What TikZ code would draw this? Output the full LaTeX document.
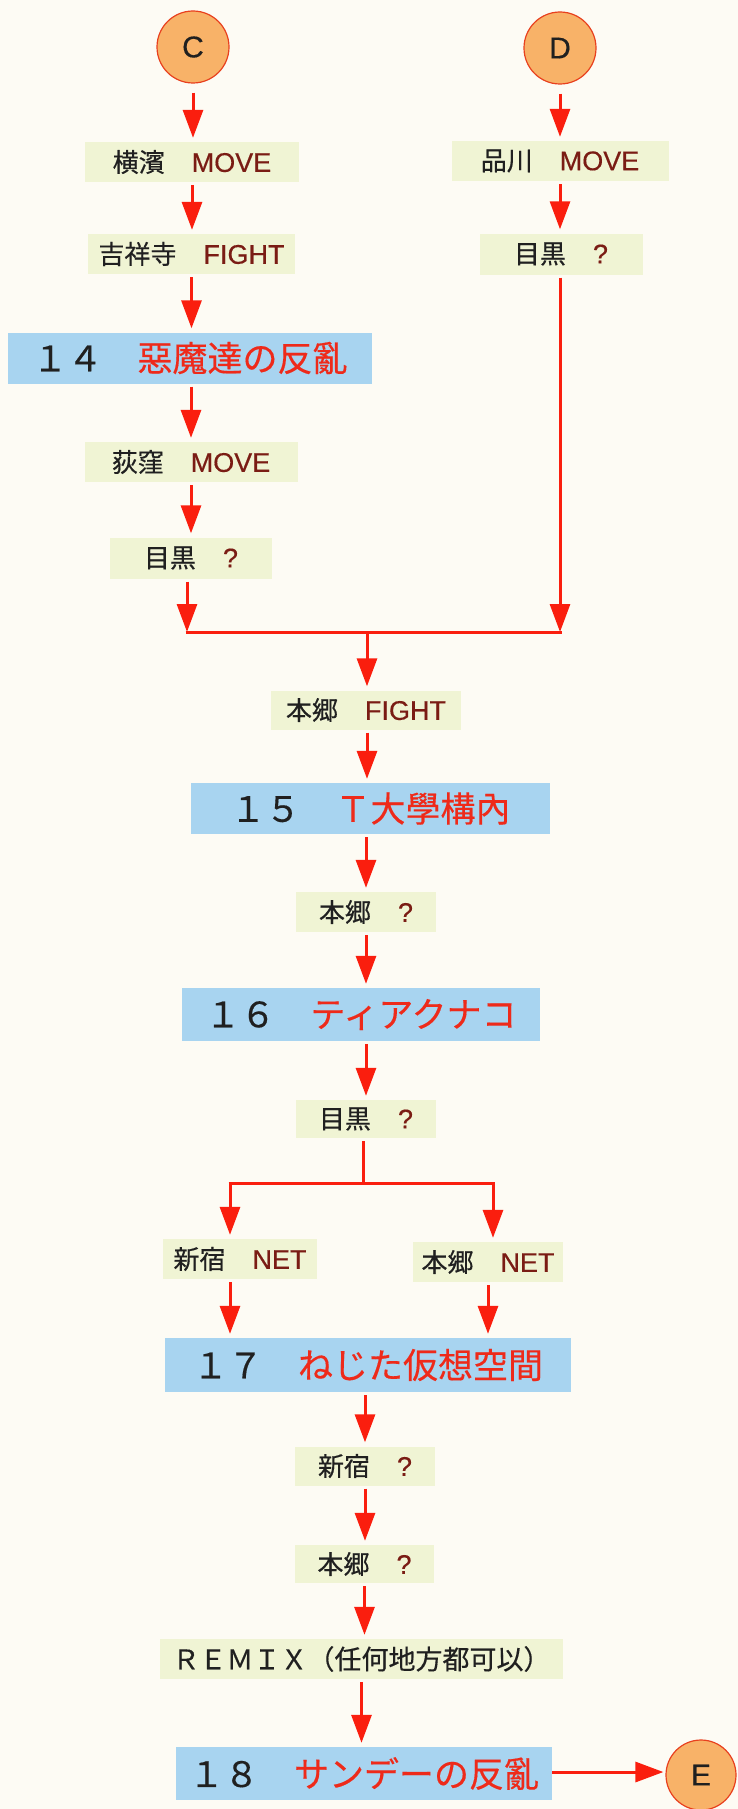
\documentclass[tikz,border=0pt]{standalone}
\usepackage{fontspec}
\setmainfont[FakeBold=0.4]{Liberation Sans}
\newfontfamily\cjk[FakeBold=0.4]{Noto Sans CJK JP}
\usetikzlibrary{arrows.meta}
\definecolor{bg}{HTML}{FDFBF4}
\definecolor{pale}{HTML}{F0F4D4}
\definecolor{sky}{HTML}{A8D4F0}
\definecolor{arr}{HTML}{FA1E0E}
\definecolor{ttl}{HTML}{EE2A1A}
\definecolor{kw}{HTML}{7A1C14}
\definecolor{ink}{HTML}{202020}
\definecolor{circ}{HTML}{F8B268}
\definecolor{circline}{HTML}{E8401E}
\newcommand\pl[2]{{\cjk #1}\hspace{27pt}{\color{kw}\fontsize{27}{30}\selectfont #2}}
\newcommand\bt[2]{{\color{ink}#1}　{\color{ttl}#2}}
\begin{document}
\begin{tikzpicture}[x=1pt,y=-1pt,
  smallbox/.style={fill=pale, inner sep=0pt, text=ink, font=\fontsize{26}{30}\selectfont},
  bigbox/.style={fill=sky, inner sep=0pt, font=\cjk\fontsize{35}{40}\selectfont},
  endpt/.style={circle, fill=circ, draw=circline, line width=1.2pt, minimum size=72pt, inner sep=0pt, font=\fontsize{30}{34}\selectfont, text=ink},
  flow/.style={draw=arr, line width=3pt, -{Triangle[length=28pt,width=20pt]}, shorten <=3pt, shorten >=4pt},
  wire/.style={draw=arr, line width=3pt},
]
\fill[bg] (0,0) rectangle (738,1809);
\useasboundingbox (0,0) rectangle (738,1809);

\node[endpt] (C) at (193,47) {C};
\node[endpt] (D) at (560,48) {D};
\node[endpt, minimum size=70pt] (E) at (701,1775) {E};

\node[smallbox, minimum width=214pt, minimum height=40pt] (n1) at (192,162) {\pl{横濱}{MOVE}};
\node[smallbox, minimum width=207pt, minimum height=40pt] (n2) at (191.5,254) {\pl{吉祥寺}{FIGHT}};
\node[smallbox, minimum width=217pt, minimum height=40pt] (n3) at (560,161) {\pl{品川}{MOVE}};
\node[smallbox, minimum width=163pt, minimum height=41pt] (n4) at (561,254) {\pl{目黒}{?}};
\node[bigbox, minimum width=364pt, minimum height=51pt] (b14) at (190,358) {\bt{１４}{惡魔達の反亂}};
\node[smallbox, minimum width=213pt, minimum height=40pt] (n5) at (191,462) {\pl{荻窪}{MOVE}};
\node[smallbox, minimum width=162pt, minimum height=41pt] (n6) at (191,558) {\pl{目黒}{?}};
\node[smallbox, minimum width=190pt, minimum height=39pt] (n7) at (366,710) {\pl{本郷}{FIGHT}};
\node[bigbox, minimum width=359pt, minimum height=51pt] (b15) at (370.5,808.5) {\bt{１５}{Ｔ大學構內}};
\node[smallbox, minimum width=140pt, minimum height=40pt] (n8) at (366,912) {\pl{本郷}{?}};
\node[bigbox, minimum width=358pt, minimum height=53pt] (b16) at (361,1014.5) {\bt{１６}{ティアクナコ}};
\node[smallbox, minimum width=140pt, minimum height=38pt] (n9) at (366,1119) {\pl{目黒}{?}};
\node[smallbox, minimum width=154pt, minimum height=40pt] (n10) at (240,1259) {\pl{新宿}{NET}};
\node[smallbox, minimum width=150pt, minimum height=40pt] (n11) at (488,1262) {\pl{本郷}{NET}};
\node[bigbox, minimum width=406pt, minimum height=54pt] (b17) at (368,1365) {\bt{１７}{ねじた仮想空間}};
\node[smallbox, minimum width=140pt, minimum height=39pt] (n12) at (365,1466) {\pl{新宿}{?}};
\node[smallbox, minimum width=139pt, minimum height=38pt] (n13) at (364.5,1564) {\pl{本郷}{?}};
\node[smallbox, minimum width=403pt, minimum height=40pt, font=\cjk\fontsize{27}{30}\selectfont] (n14) at (361.5,1659) {ＲＥＭＩＸ（任何地方都可以）};
\node[bigbox, minimum width=376pt, minimum height=53pt] (b18) at (364,1773.5) {\bt{１８}{サンデーの反亂}};

\coordinate (jl) at (187,632);
\coordinate (jr) at (560,632);
\coordinate (jm) at (367,632);
\coordinate (sm) at (363,1183);
\coordinate (sl) at (230,1183);
\coordinate (sr) at (493,1183);

\draw[flow, shorten <=9pt] (C.south) -- (C.south |- n1.north);
\draw[flow] (n1.south) -- (n1.south |- n2.north);
\draw[flow] (n2.south) -- (n2.south |- b14.north);
\draw[flow] (n5.north |- b14.south) -- (n5.north);
\draw[flow] (n5.south) -- (n5.south |- n6.north);
\draw[flow, shorten <=9pt] (D.south) -- (D.south |- n3.north);
\draw[flow] (n3.south) -- (n3.south |- n4.north);
\draw[flow, shorten >=0pt] (n6.south -| jl) -- (jl);
\draw[flow, shorten >=0pt] (n4.south -| jr) -- (jr);
\draw[wire] ([xshift=-1.5pt]jl) -- ([xshift=1.5pt]jr);
\draw[flow, shorten <=0pt] (jm) -- (jm |- n7.north);
\draw[flow] (n7.south -| jm) -- (jm |- b15.north);
\draw[flow] (n8.north |- b15.south) -- (n8.north);
\draw[flow] (n8.south) -- (n8.south |- b16.north);
\draw[flow] (n9.north |- b16.south) -- (n9.north);
\draw[wire, shorten <=3pt] (n9.south -| sm) -- (sm);
\draw[wire] ([xshift=-1.5pt]sl) -- ([xshift=1.5pt]sr);
\draw[flow, shorten <=0pt] (sl) -- (sl |- n10.north);
\draw[flow, shorten <=0pt] (sr) -- (sr |- n11.north);
\draw[flow] (n10.south -| sl) -- (sl |- b17.north);
\draw[flow] (n11.south) -- (n11.south |- b17.north);
\draw[flow] (b17.south -| n12) -- (n12.north);
\draw[flow] (n12.south) -- (n12.south |- n13.north);
\draw[flow] (n13.south) -- (n13.south |- n14.north);
\draw[flow] (n14.south) -- (n14.south |- b18.north);
\draw[flow, shorten <=0pt, shorten >=2pt] (b18.east |- 0,1772) -- (E.west |- 0,1772);
\end{tikzpicture}
\end{document}
